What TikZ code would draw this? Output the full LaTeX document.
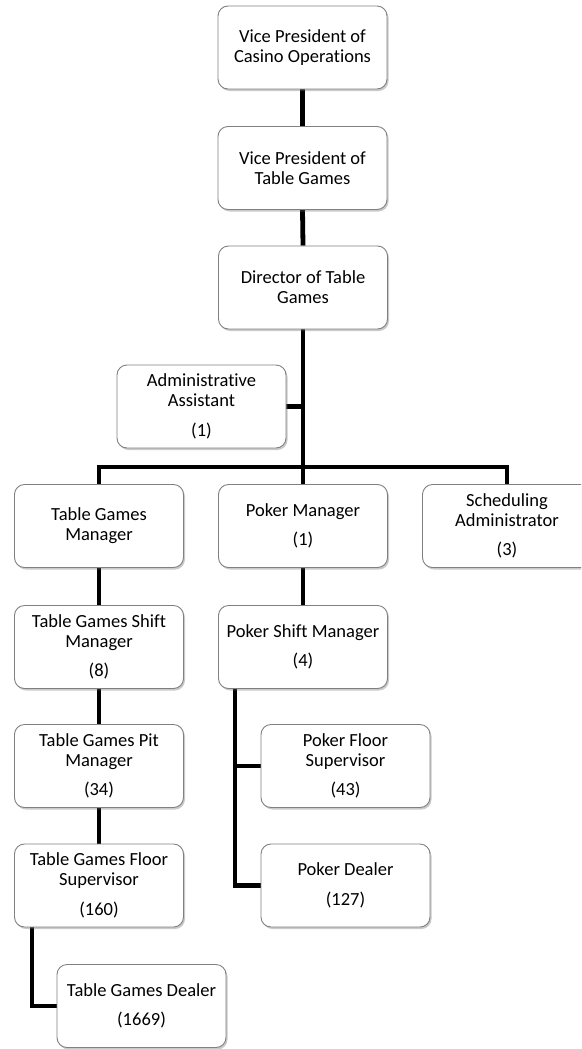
\documentclass[tikz,border=0pt]{standalone}
\usepackage{fontspec}
\setmainfont{Carlito}[Ligatures=NoCommon]
\usetikzlibrary{shadows,backgrounds}
\tikzset{
  box/.style={draw=black!50, line width=0.9pt, fill=white, rounded corners=10pt,
    minimum width=169pt, minimum height=83pt, inner sep=0pt, align=center,
    font=\fontsize{18.5pt}{20pt}\selectfont,
    drop shadow={shadow xshift=1.5pt, shadow yshift=-2pt, opacity=0.35, fill=black!60}},
  conn/.style={line width=4.8pt, black, line join=miter}
}
\begin{document}
\begin{tikzpicture}[x=1pt,y=-1pt]
\useasboundingbox (0,0) rectangle (581,1049);
\begin{scope}
\clip (0,0) rectangle (581,1049);
\node[box] (vpc) at (302.5,47.5) {Vice President of\\Casino Operations};
\node[box] (vpt) at (302.5,168) {Vice President of\\Table Games};
\node[box] (dir) at (303,287.5) {Director of Table\\Games};
\node[box] (adm) at (201.5,406.5) {Administrative\\Assistant\\[9.5pt](1)};
\node[box] (tgm) at (99,526) {Table Games\\Manager};
\node[box] (pm) at (303,526) {Poker Manager\\[9.5pt](1)};
\node[box] (sch) at (507,526) {Scheduling\\Administrator\\[9.5pt](3)};
\node[box] (tgsm) at (99,647) {Table Games Shift\\Manager\\[9.5pt](8)};
\node[box] (psm) at (303,647) {Poker Shift Manager\\[9.5pt](4)};
\node[box] (tgpm) at (99,766) {Table Games Pit\\Manager\\[9.5pt](34)};
\node[box] (pfs) at (345.5,766) {Poker Floor\\Supervisor\\[9.5pt](43)};
\node[box] (tgfs) at (99,885.5) {Table Games Floor\\Supervisor\\[9.5pt](160)};
\node[box] (pd) at (345.5,885.5) {Poker Dealer\\[9.5pt](127)};
\node[box] (tgd) at (141.5,1006) {Table Games Dealer\\[9.5pt](1669)};
\end{scope}
\begin{pgfonlayer}{background}
\coordinate (bar) at (303,467);
\coordinate (psb) at ([xshift=17pt]psm.south west);
\coordinate (tfb) at ([xshift=18pt]tgfs.south west);
\draw[conn] (vpc.south) -- (vpt.north);
\draw[conn] (vpt.south) -- (dir.north);
\draw[conn] (dir.south) -- (bar);
\draw[conn] (adm.east) -- (adm.east -| dir.south);
\draw[conn] (tgm.north) |- (bar) -| (sch.north);
\draw[conn] (bar) -- (pm.north);
\draw[conn] (tgm.south) -- (tgsm.north);
\draw[conn] (tgsm.south) -- (tgpm.north);
\draw[conn] (tgpm.south) -- (tgfs.north);
\draw[conn] (pm.south) -- (psm.north);
\draw[conn] (psb) |- (pd.west);
\draw[conn] (pfs.west) -- (pfs.west -| psb);
\draw[conn] (tfb) |- (tgd.west);
\end{pgfonlayer}
\end{tikzpicture}
\end{document}
